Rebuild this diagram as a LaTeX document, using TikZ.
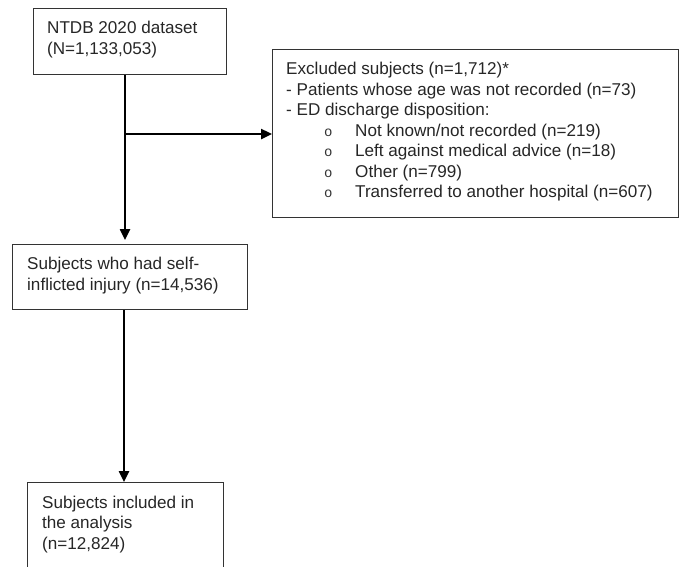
\documentclass[tikz,border=0pt]{standalone}
\usepackage{fontspec}
\setmainfont{Liberation Sans}
\newfontfamily\bulletfont{Liberation Mono}
\usetikzlibrary{arrows.meta,calc}
\begin{document}
\begin{tikzpicture}[x=1pt,y=-1pt,
  box/.style={draw=black!80,line width=1pt,rectangle,inner sep=0pt,anchor=north west},
  txt/.style={anchor=base west,inner sep=0pt,font=\fontsize{17.1}{20.5}\selectfont,text=black!85},
  bul/.style={anchor=base west,inner sep=0pt,font=\bulletfont\fontsize{14}{20.5}\selectfont,text=black!80},
  conn/.style={line width=2.4pt,-{Triangle[length=11pt,width=10pt]}}]
\useasboundingbox (0,0) rectangle (683,566);
\begin{scope}
\clip (0,0) rectangle (683,566);
% boxes
\node[box,minimum width=193pt,minimum height=66pt] (b1) at (33,8) {};
\node[box,minimum width=406pt,minimum height=168pt] (b2) at (272,49) {};
\node[box,minimum width=235pt,minimum height=65pt] (b3) at (12,244) {};
\node[box,minimum width=196pt,minimum height=110pt] (b4) at (27,482) {};
\end{scope}
% texts
\node[txt] (t1a) at (47,33) {NTDB 2020 dataset};
\node[txt] (t1b) at (47,54) {(N=1,133,053)};
\node[txt] (t2a) at (286,74) {Excluded subjects (n=1,712)*};
\node[txt] (t2b) at (286,95) {- Patients whose age was not recorded (n=73)};
\node[txt] (t2c) at (286,115.5) {- ED discharge disposition:};
\node[bul] (o1) at (324,136) {o};
\node[txt] (t2d) at (355,136) {Not known/not recorded (n=219)};
\node[bul] (o2) at (324,156.5) {o};
\node[txt] (t2e) at (355,156.5) {Left against medical advice (n=18)};
\node[bul] (o3) at (324,177) {o};
\node[txt] (t2f) at (355,177) {Other (n=799)};
\node[bul] (o4) at (324,197.5) {o};
\node[txt] (t2g) at (355,197.5) {Transferred to another hospital (n=607)};
\node[txt] (t3a) at (27,269) {Subjects who had self-};
\node[txt] (t3b) at (27,290) {inflicted injury (n=14,536)};
\node[txt] (t4a) at (42,508) {Subjects included in};
\node[txt] (t4b) at (42,528.5) {the analysis};
\node[txt] (t4c) at (42,549) {(n=12,824)};
% connectors
\coordinate (j1) at (125,134);
\coordinate (j2) at (124,0);
\draw[conn,shorten >=4pt] (b1.south -| j1) -- (b3.north -| j1);
\draw[conn] (j1) -- (b2.west |- j1);
\draw[conn] (b3.south -| j2) -- (b4.north -| j2);
\end{tikzpicture}
\end{document}
